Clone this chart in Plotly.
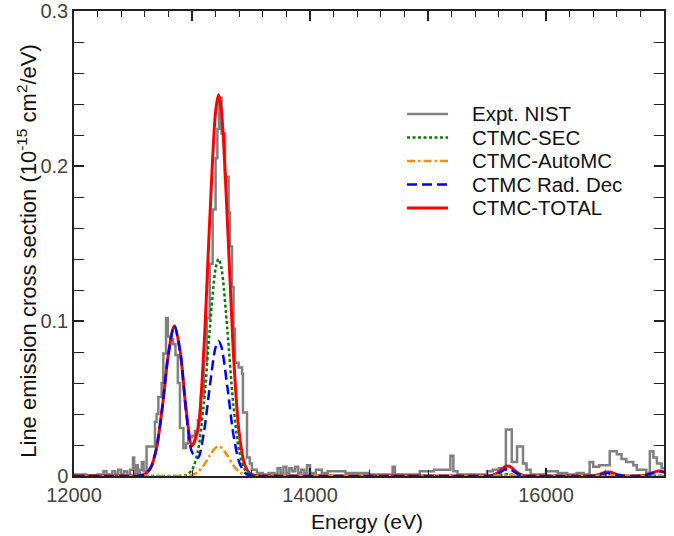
import plotly.graph_objects as go

# ---------------- data ----------------
energy_calc = [12000, 12450, 12500, 12550, 12600, 12650, 12700, 12750, 12800, 12850,
               12900, 12950, 13000, 13050, 13100, 13150, 13200, 13225, 13250, 13300,
               13350, 13400, 13450, 13500, 13550, 13600, 15450, 15500, 15550, 15600,
               15650, 15675, 15700, 15750, 15800, 15850, 15900, 16350, 16400, 16450,
               16500, 16525, 16550, 16600, 16650, 16700, 16750, 16800, 16850, 16900,
               16950, 17000]

ctmc_sec = [0, 0, 0, 0, 0, 0, 0, 0, 0, 0,
            0.0001, 0.0007, 0.0039, 0.0160, 0.0463, 0.0940, 0.1339, 0.1400, 0.1339, 0.0940,
            0.0463, 0.0160, 0.0039, 0.0007, 0.0001, 0, 0, 0, 0.0001, 0.0005,
            0.0011, 0.0012, 0.0011, 0.0005, 0.0001, 0, 0, 0, 0, 0.0002,
            0.0004, 0.0004, 0.0004, 0.0002, 0, 0, 0, 0, 0, 0.0001,
            0.0002, 0.0002]

ctmc_automc = [0, 0, 0, 0, 0, 0, 0, 0, 0, 0,
               0, 0.0001, 0.0007, 0.0026, 0.0069, 0.0132, 0.0182, 0.0190, 0.0182, 0.0132,
               0.0069, 0.0026, 0.0007, 0.0001, 0, 0, 0, 0, 0.0001, 0.0003,
               0.0007, 0.0008, 0.0007, 0.0003, 0.0001, 0, 0, 0, 0, 0.0001,
               0.0003, 0.0003, 0.0003, 0.0001, 0, 0, 0, 0, 0, 0.0001,
               0.0001, 0.0001]

ctmc_raddec = [0, 0, 0, 0.0002, 0.0011, 0.0053, 0.0184, 0.0452, 0.0787, 0.0970,
               0.0802, 0.0419, 0.0155, 0.0116, 0.0277, 0.0573, 0.0831, 0.0870, 0.0831, 0.0573,
               0.0272, 0.0089, 0.0020, 0.0003, 0, 0, 0, 0, 0.0003, 0.0018,
               0.0041, 0.0045, 0.0041, 0.0018, 0.0003, 0, 0, 0, 0.0001, 0.0007,
               0.0017, 0.0019, 0.0017, 0.0007, 0.0001, 0, 0, 0.0001, 0.0006, 0.0018,
               0.0030, 0.0024]

ctmc_total = [0, 0, 0, 0.0002, 0.0011, 0.0053, 0.0184, 0.0452, 0.0787, 0.0970,
              0.0803, 0.0427, 0.0195, 0.0300, 0.0809, 0.1645, 0.2352, 0.2460, 0.2352, 0.1645,
              0.0804, 0.0275, 0.0066, 0.0011, 0.0001, 0, 0, 0, 0.0005, 0.0026,
              0.0059, 0.0065, 0.0059, 0.0026, 0.0005, 0, 0, 0, 0.0001, 0.0010,
              0.0024, 0.0026, 0.0024, 0.0010, 0.0001, 0, 0, 0.0001, 0.0006, 0.0020,
              0.0033, 0.0027]

energy_nist = [12000, 12100, 12200, 12250, 12275, 12325, 12350, 12375, 12400, 12425,
               12450, 12475, 12500, 12510, 12525, 12540, 12560, 12575, 12590, 12615,
               12650, 12686, 12700, 12715, 12743, 12757, 12780, 12795, 12815, 12840,
               12860, 12880, 12898, 12927, 12950, 12969, 13000, 13025, 13050, 13075,
               13100, 13125, 13150, 13175, 13200, 13215, 13230, 13251, 13280, 13310,
               13322, 13339, 13352, 13364, 13395, 13424, 13432, 13466, 13490, 13508,
               13550, 13600, 13650, 13700, 13725, 13750, 13775, 13800, 13825, 13850,
               13875, 13900, 13925, 13950, 13975, 14000, 14050, 14100, 14150, 14300,
               14500, 14650, 14700, 14720, 14800, 14930, 15050, 15190, 15215, 15250,
               15400, 15500, 15550, 15600, 15625, 15660, 15710, 15755, 15805, 15835,
               15870, 16000, 16100, 16180, 16260, 16320, 16370, 16400, 16450, 16540,
               16600, 16640, 16680, 16740, 16770, 16850, 16880, 16910, 16940, 16980,
               17000]

nist = [0.001, 0.0005, 0.001, 0.003, 0.001, 0.003, 0.001, 0.004, 0.001, 0.003,
        0.001, 0.004, 0.012, 0.002, 0.007, 0.002, 0.004, 0.009, 0.003, 0.019,
        0.019, 0.035, 0.040, 0.051, 0.060, 0.079, 0.102, 0.090, 0.088, 0.085,
        0.078, 0.060, 0.031, 0.018, 0.021, 0.025, 0.026, 0.029, 0.036, 0.052,
        0.074, 0.102, 0.137, 0.172, 0.205, 0.224, 0.244, 0.221, 0.193, 0.170,
        0.148, 0.122, 0.095, 0.073, 0.070, 0.066, 0.041, 0.012, 0.008, 0.004,
        0.002, 0.001, 0.002, 0.001, 0.005, 0.002, 0.006, 0.002, 0.005, 0.003,
        0.006, 0.002, 0.004, 0.002, 0.007, 0.002, 0.004, 0.002, 0.003, 0.002,
        0.001, 0.001, 0.006, 0.001, 0.001, 0.003, 0.004, 0.013, 0.003, 0.001,
        0.001, 0.003, 0.004, 0.005, 0.004, 0.030, 0.009, 0.019, 0.008, 0.004,
        0.001, 0.003, 0.002, 0.001, 0.002, 0.001, 0.009, 0.006, 0.007, 0.016,
        0.014, 0.011, 0.009, 0.007, 0.004, 0.002, 0.016, 0.012, 0.008, 0.005,
        0.005]

x_range = [12000, 17000]
x_ticks = [12000, 14000, 16000]
x_tick_labels = ["12000", "14000", "16000"]
y_ticks = [0, 0.1, 0.2, 0.3]
y_tick_labels = ["0", "0.1", "0.2", "0.3"]

legend_labels = ["Expt. NIST", "CTMC-SEC", "CTMC-AutoMC", "CTMC Rad. Dec", "CTMC-TOTAL"]
x_title = "Energy (eV)"
y_title = "Line emission cross section (10<sup>-15</sup> cm<sup>2</sup>/eV)"

# ---------------- styles ----------------
FONT = "Liberation Sans, Arial, sans-serif"
styles = {
    "Expt. NIST": dict(color="#808080", width=2.5, dash="solid"),
    "CTMC-SEC": dict(color="#008000", width=2.5, dash="3px,2.5px"),
    "CTMC-AutoMC": dict(color="#ff8c00", width=2.5, dash="8px,3px,2.5px,3px"),
    "CTMC Rad. Dec": dict(color="#0000ff", width=2.5, dash="10px,5px"),
    "CTMC-TOTAL": dict(color="#ff0000", width=3, dash="solid"),
}

fig = go.Figure()
# invisible trace that hosts the top (mirror) x axis with its own tick spacing
fig.add_trace(go.Scatter(x=x_range, y=[0, 0], xaxis="x2", showlegend=False,
                         hoverinfo="skip", mode="lines", opacity=0,
                         line=dict(width=0)))
fig.add_trace(go.Scatter(x=energy_nist, y=nist, mode="lines", name="Expt. NIST",
                         line=dict(**styles["Expt. NIST"], shape="hv")))
fig.add_trace(go.Scatter(x=energy_calc, y=ctmc_total, mode="lines", name="CTMC-TOTAL",
                         line=dict(**styles["CTMC-TOTAL"], shape="spline", smoothing=0.8)))
fig.add_trace(go.Scatter(x=energy_calc, y=ctmc_sec, mode="lines", name="CTMC-SEC",
                         line=dict(**styles["CTMC-SEC"], shape="spline", smoothing=0.8)))
fig.add_trace(go.Scatter(x=energy_calc, y=ctmc_automc, mode="lines", name="CTMC-AutoMC",
                         line=dict(**styles["CTMC-AutoMC"], shape="spline", smoothing=0.8)))
fig.add_trace(go.Scatter(x=energy_calc, y=ctmc_raddec, mode="lines", name="CTMC Rad. Dec",
                         line=dict(**styles["CTMC Rad. Dec"], shape="spline", smoothing=0.8)))

# legend drawn as line samples + labels (paper coordinates)
row_y0 = 0.7785
row_step = 0.0505
for i, lab in enumerate(legend_labels):
    yy = row_y0 - i * row_step
    st = styles[lab]
    fig.add_shape(type="line", xref="paper", yref="paper", x0=0.5645, x1=0.634,
                  y0=yy, y1=yy, line=dict(color=st["color"], width=st["width"],
                                          dash=st["dash"]))
    fig.add_annotation(xref="paper", yref="paper", x=0.671, y=yy, text=lab,
                       showarrow=False, xanchor="left", yanchor="middle",
                       font=dict(size=20.5, color="#111", family=FONT))

# axis titles
fig.add_annotation(xref="paper", yref="paper", x=-0.080, y=0.484, text=y_title,
                   textangle=-90, showarrow=False, xanchor="center", yanchor="middle",
                   font=dict(size=22, color="#111", family=FONT))
fig.add_annotation(xref="paper", yref="paper", x=0.497, y=-0.098, text=x_title,
                   showarrow=False, xanchor="center", yanchor="middle",
                   font=dict(size=21, color="#111", family=FONT))

fig.update_layout(
    width=674, height=536,
    margin=dict(l=74, r=10, t=11, b=60),
    paper_bgcolor="white", plot_bgcolor="white",
    font=dict(family=FONT, size=20, color="#222"),
    showlegend=False,
    xaxis=dict(range=x_range, tickvals=x_ticks, ticktext=x_tick_labels,
               ticks="inside", ticklen=8, tickcolor="#222", tickwidth=1.5,
               minor=dict(dtick=500, tick0=12000, ticks="inside", ticklen=6,
                          tickcolor="#222", tickwidth=1.2),
               showline=True, linecolor="#222", linewidth=1.5, mirror=True,
               showgrid=False, zeroline=False, automargin=False,
               tickfont=dict(size=20, color="#444")),
    xaxis2=dict(range=x_range, overlaying="x", side="top", anchor="y",
                dtick=1000, tick0=12000, ticks="inside", ticklen=10, tickcolor="#222",
                tickwidth=1.5, showticklabels=False, automargin=False,
                minor=dict(dtick=200, tick0=12000, ticks="inside", ticklen=6,
                           tickcolor="#222", tickwidth=1.2, showgrid=False),
                showline=False, showgrid=False, zeroline=False),
    yaxis=dict(range=[0, 0.3], tickvals=y_ticks, ticktext=y_tick_labels,
               ticks="inside", ticklen=10, tickcolor="#222", tickwidth=1.5,
               minor=dict(dtick=0.02, tick0=0, ticks="inside", ticklen=6,
                          tickcolor="#222", tickwidth=1.2),
               showline=True, linecolor="#222", linewidth=1.5, mirror="allticks",
               showgrid=False, zeroline=False, automargin=False,
               tickfont=dict(size=20, color="#444")),
)

fig.write_html("out.html", config={"displayModeBar": False},
               post_script="document.body.style.margin='0';document.body.style.overflow='hidden';")
